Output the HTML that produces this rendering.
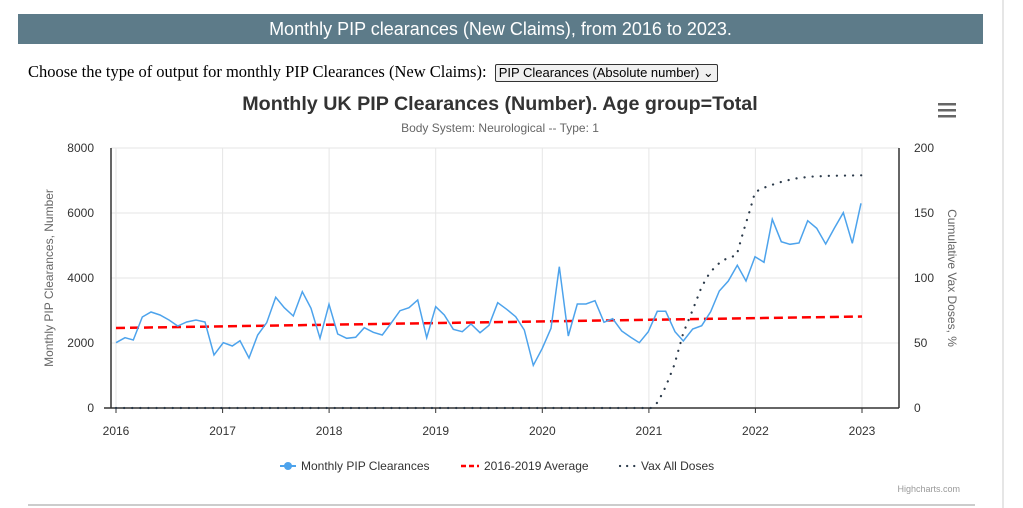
<!DOCTYPE html>
<html><head><style>
body{margin:0;background:#fff;width:1023px;height:508px;overflow:hidden;position:relative;font-family:"Liberation Sans",sans-serif}
.hdr{position:absolute;left:18px;top:14px;width:965px;height:30px;background:#5d7b89;color:#fff;font-size:18px;text-align:center;line-height:30px}
.choose{position:absolute;left:28px;top:62px;font-family:"Liberation Serif",serif;font-size:16.5px;color:#000}
.sel{display:inline-block;border:1px solid #333;border-radius:2px;font-family:"Liberation Sans",sans-serif;font-size:13px;padding:0px 3px;margin-left:4px;background:#f0f0f0}
</style></head><body>
<div class="hdr">Monthly PIP clearances (New Claims), from 2016 to 2023.</div>
<div class="choose">Choose the type of output for monthly PIP Clearances (New Claims): <span class="sel">PIP Clearances (Absolute number) ⌄</span></div>
<svg width="1023" height="508" style="position:absolute;left:0;top:0" font-family="Liberation Sans, sans-serif">
<line x1="1003" y1="0" x2="1003" y2="508" stroke="#ccc"/>
<line x1="28" y1="505" x2="975" y2="505" stroke="#999"/>
<text x="500" y="110" text-anchor="middle" font-size="19.7" font-weight="bold" fill="#333">Monthly UK PIP Clearances (Number). Age group=Total</text>
<text x="500" y="132" text-anchor="middle" font-size="12" fill="#666">Body System: Neurological -- Type: 1</text>
<g fill="#666"><rect x="938" y="103" width="18" height="2.5"/><rect x="938" y="109" width="18" height="2.5"/><rect x="938" y="115" width="18" height="2.5"/></g>
<g stroke="#e6e6e6">
<line x1="111" y1="148" x2="899" y2="148"/><line x1="111" y1="213" x2="899" y2="213"/><line x1="111" y1="278" x2="899" y2="278"/><line x1="111" y1="343" x2="899" y2="343"/>
<line x1="116" y1="148" x2="116" y2="408"/><line x1="222.6" y1="148" x2="222.6" y2="408"/><line x1="329.1" y1="148" x2="329.1" y2="408"/><line x1="435.7" y1="148" x2="435.7" y2="408"/><line x1="542.3" y1="148" x2="542.3" y2="408"/><line x1="648.9" y1="148" x2="648.9" y2="408"/><line x1="755.4" y1="148" x2="755.4" y2="408"/><line x1="862" y1="148" x2="862" y2="408"/>
</g>
<line x1="111" y1="148" x2="111" y2="408" stroke="#333" stroke-width="1.5"/>
<line x1="899" y1="148" x2="899" y2="408" stroke="#333" stroke-width="1.5"/>
<line x1="104" y1="408" x2="899" y2="408" stroke="#333" stroke-width="1.5"/>
<g stroke="#333"><line x1="116" y1="408" x2="116" y2="413"/><line x1="222.6" y1="408" x2="222.6" y2="413"/><line x1="329.1" y1="408" x2="329.1" y2="413"/><line x1="435.7" y1="408" x2="435.7" y2="413"/><line x1="542.3" y1="408" x2="542.3" y2="413"/><line x1="648.9" y1="408" x2="648.9" y2="413"/><line x1="755.4" y1="408" x2="755.4" y2="413"/><line x1="862" y1="408" x2="862" y2="413"/></g>
<g font-size="12" fill="#333" text-anchor="end">
<text x="94" y="152">8000</text><text x="94" y="217">6000</text><text x="94" y="282">4000</text><text x="94" y="347">2000</text><text x="94" y="412">0</text></g>
<g font-size="12" fill="#333" text-anchor="start">
<text x="914" y="152">200</text><text x="914" y="217">150</text><text x="914" y="282">100</text><text x="914" y="347">50</text><text x="914" y="412">0</text></g>
<g font-size="12" fill="#333" text-anchor="middle">
<text x="116" y="435">2016</text><text x="222.6" y="435">2017</text><text x="329.1" y="435">2018</text><text x="435.7" y="435">2019</text><text x="542.3" y="435">2020</text><text x="648.9" y="435">2021</text><text x="755.4" y="435">2022</text><text x="862" y="435">2023</text></g>
<text transform="translate(53,278) rotate(-90)" text-anchor="middle" font-size="12" fill="#666">Monthly PIP Clearances, Number</text>
<text transform="translate(948,278) rotate(90)" text-anchor="middle" font-size="12" fill="#666">Cumulative Vax Doses, %</text>
<line x1="116" y1="328" x2="862" y2="316.5" stroke="#f00" stroke-width="2.5" stroke-dasharray="9,5"/>
<polyline fill="none" stroke="#2b3a4a" stroke-width="2.2" stroke-dasharray="0.1,8" stroke-linecap="round" points="116,408 651,408 652.7,406.7 658,402 665.7,386.7 674.3,365 683.3,333 692.7,310 701.7,286.7 710,272.3 721.7,260.7 736.7,255 743.3,231.7 750,210 755,192.3 762.3,188.3 778.3,182.7 794,178.7 810,176.7 830,175.8 862,175.3"/>
<polyline fill="none" stroke="#4da3ec" stroke-width="1.5" points="116,342.7 125,337.7 133.3,340 142.3,317 151,312 160,315 169,320 177.7,326 186.7,322 196,320 205,322 214,355 223.3,342.7 232.3,346 240,340.7 249,358 257.7,335 266.7,322.7 275.7,297.3 284.3,307.7 293.3,316 302.3,291.7 311,308.3 320,338.3 329,304.3 337.7,334 346.7,338.3 355.7,337.3 364.3,327.7 373.3,332.3 382.3,335 391,323.3 400,310.7 409,307.7 417.7,300 426.7,337.7 435.7,306.7 444.3,315 453.3,329.3 462.3,331.7 471,324 480,332.7 489,325.3 497.7,302.7 506.7,309.3 515.7,316.7 524.3,330 533.3,365.3 542.3,348.3 551,328.3 559.3,266.7 568.3,336 577.3,304 586,304 595,300.7 604,322.3 612.7,318.7 621.7,331 630.7,337.3 639.3,342.7 648.3,331.7 657.3,311.3 665.7,311.3 675,331.7 683.3,341 692.7,329 701.7,325.7 710.7,311.7 719.3,291 728.3,281 737.3,265.3 746,281 755,256.7 764,262.3 772.3,219.3 781.3,241.7 790,244.3 799,243 807.7,220.7 816.7,228.3 825.7,244 834.3,228.3 843.3,212.7 852.3,243.3 861,203.3"/>
<g font-size="12" fill="#333">
<line x1="280" y1="466" x2="296" y2="466" stroke="#4da3ec" stroke-width="2"/><circle cx="288" cy="466" r="4" fill="#4da3ec"/>
<text x="301" y="470">Monthly PIP Clearances</text>
<line x1="461" y1="466" x2="479" y2="466" stroke="#f00" stroke-width="2.5" stroke-dasharray="5,3"/>
<text x="484" y="470">2016-2019 Average</text>
<line x1="620" y1="466" x2="636" y2="466" stroke="#2b3a4a" stroke-width="2.2" stroke-dasharray="0.1,7" stroke-linecap="round"/>
<text x="641" y="470">Vax All Doses</text>
</g>
<text x="960" y="492" text-anchor="end" font-size="9" fill="#999">Highcharts.com</text>
</svg>
</body></html>
